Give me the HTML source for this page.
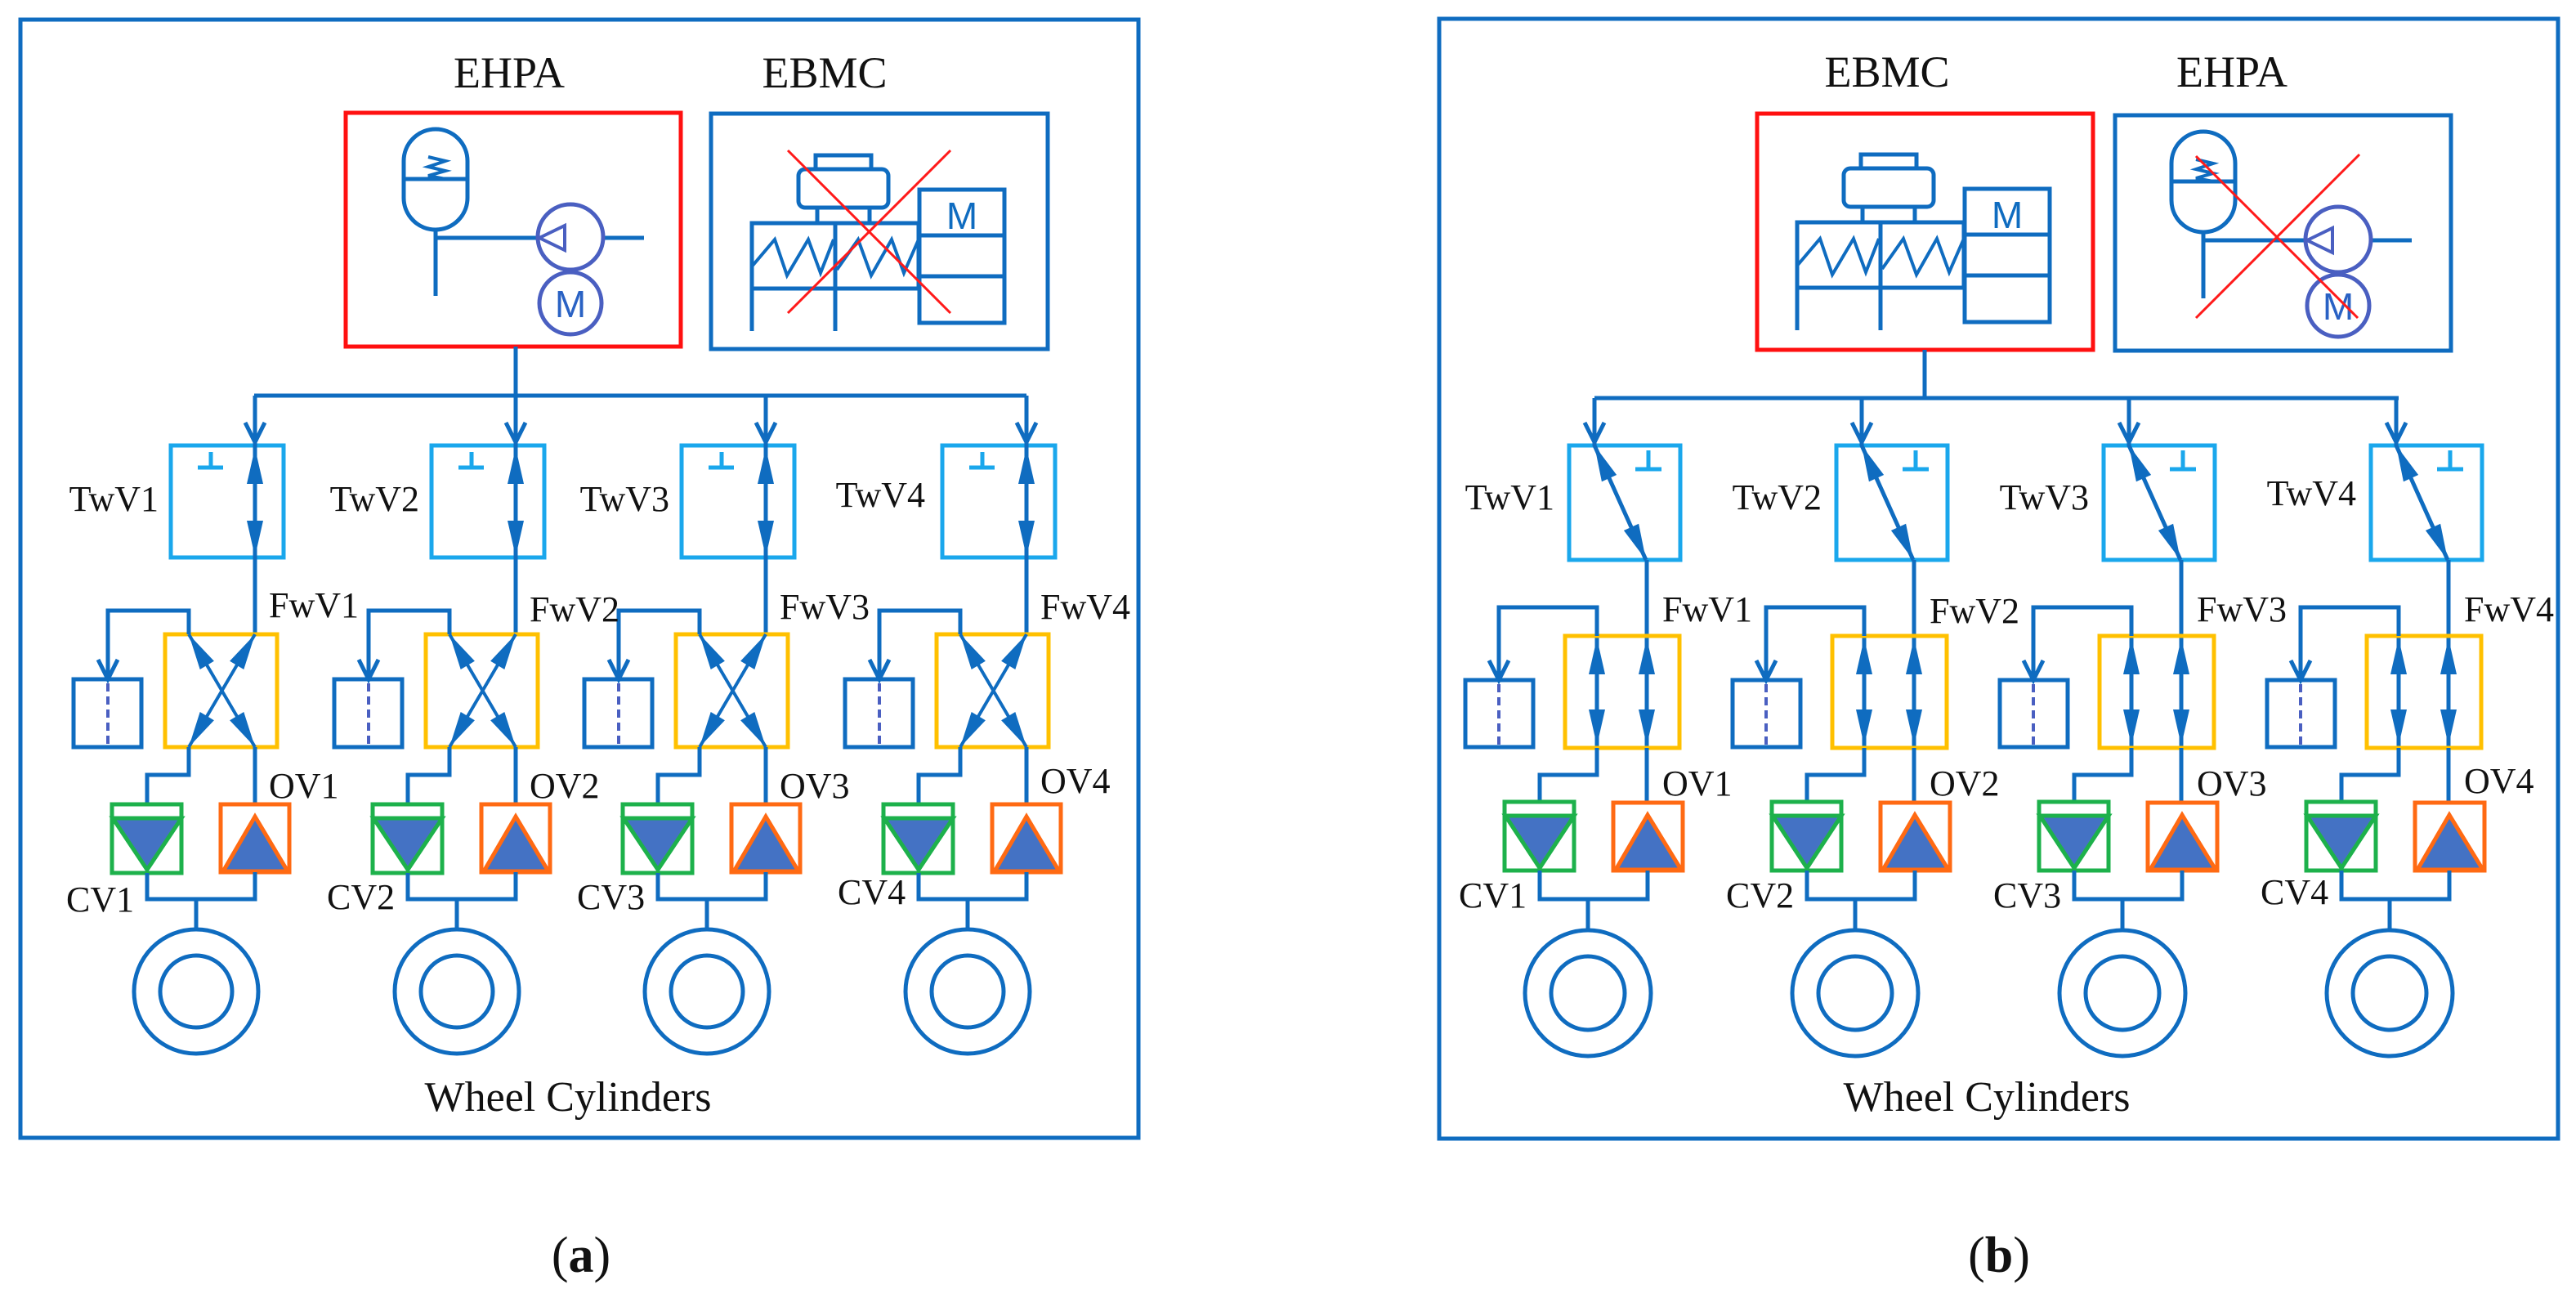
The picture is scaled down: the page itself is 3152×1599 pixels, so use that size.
<!DOCTYPE html>
<html><head><meta charset="utf-8"><style>
html,body{margin:0;padding:0;background:#fff;}
svg{display:block;}
text{font-family:"Liberation Serif",serif;fill:#111;}
</style></head><body>
<svg width="3152" height="1599" viewBox="0 0 3152 1599" xmlns="http://www.w3.org/2000/svg">
<defs>
<g id="colA" fill="none" stroke-width="5">
  <rect x="-103" y="545" width="138" height="137" stroke="#1aa7ec"/>
  <path d="M-54 553V572M-70 572H-39" stroke="#1aa7ec"/>
  <path d="M0 484V776" stroke="#0f6cc0"/>
  <path d="M-12 517L0 541L12 517" stroke="#0f6cc0"/>
  <polygon points="0,548 -10,592 10,592" fill="#0f6cc0" stroke="none"/>
  <polygon points="0,681 -10,637 10,637" fill="#0f6cc0" stroke="none"/>
  <rect x="-110" y="776" width="137" height="138" stroke="#ffc000"/>
  <path d="M-81 776L0 914M0 776L-81 914" stroke="#0f6cc0" stroke-width="4"/>
  <g fill="#0f6cc0" stroke="none">
   <polygon points="-81,776 -50.1,808.8 -67.3,819"/>
   <polygon points="0,914 -13.7,871 -30.9,881.2"/>
   <polygon points="0,776 -13.7,819 -30.9,808.8"/>
   <polygon points="-81,914 -50.1,881.2 -67.3,871"/>
  </g>
  <path d="M-81 776V747H-180V831" stroke="#0f6cc0"/>
  <path d="M-192 807L-180 831L-168 807" stroke="#0f6cc0"/>
  <rect x="-222" y="831" width="83" height="83" stroke="#0f6cc0"/>
  <path d="M-180 836V914" stroke="#4a5fc1" stroke-dasharray="10 6" stroke-width="4"/>
  <path d="M-81 914V948H-132V984M0 914V984" stroke="#0f6cc0"/>
  <rect x="-175" y="984" width="85" height="84" stroke="#1db14b"/>
  <polygon points="-174,1001 -90,1001 -132,1064" fill="#4472c4" stroke="#1db14b"/>
  <path d="M-175 1001H-90" stroke="#1db14b"/>
  <rect x="-42" y="984" width="84" height="83" stroke="#ff6a13"/>
  <polygon points="0,999 -39,1066 40,1066" fill="#4472c4" stroke="#ff6a13"/>
  <path d="M-132 1068V1100H0V1067M-72 1100V1137" stroke="#0f6cc0"/>
  <circle cx="-72" cy="1213" r="76" stroke="#0f6cc0"/>
  <circle cx="-72" cy="1213" r="44" stroke="#0f6cc0"/>
</g>
<g id="colB" fill="none" stroke-width="5">
  <rect x="-95" y="545" width="136" height="140" stroke="#1aa7ec"/>
  <path d="M2 551V574M-14 574H18" stroke="#1aa7ec"/>
  <path d="M-64 487V545L-1 685" stroke="#0f6cc0"/>
  <path d="M-76 517L-64 541L-52 517" stroke="#0f6cc0"/>
  <polygon points="-64,545 -36.9,581 -55.1,589.2" fill="#0f6cc0" stroke="none"/>
  <polygon points="-1,685 -9.9,640.8 -28.1,649" fill="#0f6cc0" stroke="none"/>
  <path d="M0 685V915M-61 778V915" stroke="#0f6cc0"/>
  <rect x="-100" y="778" width="140" height="137" stroke="#ffc000"/>
  <g fill="#0f6cc0" stroke="none">
   <polygon points="-61,781 -71,825 -51,825"/>
   <polygon points="-61,912 -71,868 -51,868"/>
   <polygon points="0,781 -10,825 10,825"/>
   <polygon points="0,912 -10,868 10,868"/>
  </g>
  <path d="M-61 778V743H-181V832" stroke="#0f6cc0"/>
  <path d="M-193 808L-181 832L-169 808" stroke="#0f6cc0"/>
  <rect x="-222" y="832" width="83" height="82" stroke="#0f6cc0"/>
  <path d="M-181 837V914" stroke="#4a5fc1" stroke-dasharray="10 6" stroke-width="4"/>
  <path d="M-61 915V948H-131V981M0 915V982" stroke="#0f6cc0"/>
  <rect x="-174" y="981" width="85" height="84" stroke="#1db14b"/>
  <polygon points="-173,998 -89,998 -131,1062" fill="#4472c4" stroke="#1db14b"/>
  <path d="M-174 998H-89" stroke="#1db14b"/>
  <rect x="-41" y="982" width="85" height="83" stroke="#ff6a13"/>
  <polygon points="1,997 -38,1064 42,1064" fill="#4472c4" stroke="#ff6a13"/>
  <path d="M-131 1065V1100H1V1065M-72 1100V1138" stroke="#0f6cc0"/>
  <circle cx="-72" cy="1215" r="77" stroke="#0f6cc0"/>
  <circle cx="-72" cy="1215" r="45" stroke="#0f6cc0"/>
</g>
<g id="ehpa" fill="none" stroke-width="5">
  <rect x="494" y="158" width="78" height="123" rx="39" stroke="#0f6cc0"/>
  <path d="M494 219H572" stroke="#0f6cc0"/>
  <path d="M524 192L545 197L524 204L545 209L524 215L545 219" stroke="#0f6cc0" stroke-width="4"/>
  <path d="M533 281V362M533 291H658M737 291H788" stroke="#0f6cc0"/>
  <circle cx="698" cy="290" r="40" stroke="#4a5fc1"/>
  <path d="M660 291L691 276V306Z" stroke="#4a5fc1" stroke-width="4"/>
  <circle cx="698" cy="371" r="38" stroke="#4a5fc1"/>
  <text x="698" y="388" text-anchor="middle" font-size="46" style="font-family:'Liberation Sans',sans-serif;fill:#2a62c4">M</text>
</g>
<g id="ebmc" fill="none" stroke-width="5" stroke="#0f6cc0">
  <rect x="998" y="190" width="68" height="17"/>
  <rect x="977" y="207" width="110" height="47" rx="8"/>
  <path d="M1000 254V273M1064 254V273"/>
  <rect x="920" y="273" width="204" height="80"/>
  <path d="M920 353V405M1022 273V405"/>
  <path d="M920 326L948 293L963 337L989 293L1004 334L1020 293" stroke-width="4"/>
  <path d="M1024 330L1050 293L1066 337L1091 293L1106 334L1124 293" stroke-width="4"/>
  <rect x="1125" y="232" width="104" height="163"/>
  <path d="M1125 288H1229M1125 338H1229"/>
  <text x="1177" y="280" text-anchor="middle" font-size="46" stroke="none" style="font-family:'Liberation Sans',sans-serif;fill:#0f6cc0">M</text>
</g>
</defs>

<!-- Panel A -->
<rect x="25" y="24" width="1368" height="1368" fill="none" stroke="#0f6cc0" stroke-width="5"/>
<text x="623" y="107" text-anchor="middle" font-size="54">EHPA</text>
<text x="1009" y="107" text-anchor="middle" font-size="54">EBMC</text>
<rect x="423" y="138" width="410" height="286" fill="none" stroke="#ff1010" stroke-width="5"/>
<use href="#ehpa"/>
<rect x="870" y="139" width="412" height="288" fill="none" stroke="#0f6cc0" stroke-width="5"/>
<use href="#ebmc"/>
<path d="M964 184L1163 383M1163 184L964 383" stroke="#ff1a1a" stroke-width="3"/>
<path d="M631 424V484M311 484H1256" fill="none" stroke="#0f6cc0" stroke-width="5"/>
<use href="#colA" transform="translate(312,0)"/>
<use href="#colA" transform="translate(631,0)"/>
<use href="#colA" transform="translate(937,0)"/>
<use href="#colA" transform="translate(1256,0)"/>
<g font-size="44">
<text x="194" y="625" text-anchor="end">TwV1</text>
<text x="513" y="625" text-anchor="end">TwV2</text>
<text x="819" y="625" text-anchor="end">TwV3</text>
<text x="1132" y="620" text-anchor="end">TwV4</text>
<text x="329" y="755">FwV1</text>
<text x="648" y="760">FwV2</text>
<text x="954" y="757">FwV3</text>
<text x="1273" y="757">FwV4</text>
<text x="329" y="976">OV1</text>
<text x="648" y="976">OV2</text>
<text x="954" y="976">OV3</text>
<text x="1273" y="970">OV4</text>
<text x="81" y="1115">CV1</text>
<text x="400" y="1112">CV2</text>
<text x="706" y="1112">CV3</text>
<text x="1025" y="1106">CV4</text>
</g>
<text x="695" y="1359" text-anchor="middle" font-size="52">Wheel Cylinders</text>

<!-- Panel B -->
<rect x="1761" y="23" width="1369" height="1370" fill="none" stroke="#0f6cc0" stroke-width="5"/>
<text x="2309" y="106" text-anchor="middle" font-size="54">EBMC</text>
<text x="2731" y="106" text-anchor="middle" font-size="54">EHPA</text>
<rect x="2150" y="139" width="411" height="289" fill="none" stroke="#ff1010" stroke-width="5"/>
<use href="#ebmc" transform="translate(1279,-1)"/>
<rect x="2588" y="141" width="411" height="288" fill="none" stroke="#0f6cc0" stroke-width="5"/>
<use href="#ehpa" transform="translate(2163,3)"/>
<path d="M2687 191L2885 389M2887 189L2687 389" stroke="#ff1a1a" stroke-width="3"/>
<path d="M2355 428V487M1951 487H2935" fill="none" stroke="#0f6cc0" stroke-width="5"/>
<use href="#colB" transform="translate(2015,0)"/>
<use href="#colB" transform="translate(2342,0)"/>
<use href="#colB" transform="translate(2669,0)"/>
<use href="#colB" transform="translate(2996,0)"/>
<g font-size="44">
<text x="1902" y="623" text-anchor="end">TwV1</text>
<text x="2229" y="623" text-anchor="end">TwV2</text>
<text x="2556" y="623" text-anchor="end">TwV3</text>
<text x="2883" y="618" text-anchor="end">TwV4</text>
<text x="2034" y="760">FwV1</text>
<text x="2361" y="762">FwV2</text>
<text x="2688" y="760">FwV3</text>
<text x="3015" y="760">FwV4</text>
<text x="2034" y="973">OV1</text>
<text x="2361" y="973">OV2</text>
<text x="2688" y="973">OV3</text>
<text x="3015" y="970">OV4</text>
<text x="1785" y="1110">CV1</text>
<text x="2112" y="1110">CV2</text>
<text x="2439" y="1110">CV3</text>
<text x="2766" y="1106">CV4</text>
</g>
<text x="2431" y="1359" text-anchor="middle" font-size="52">Wheel Cylinders</text>

<text x="711" y="1556" text-anchor="middle" font-size="62">(<tspan font-weight="bold">a</tspan>)</text>
<text x="2446" y="1556" text-anchor="middle" font-size="62">(<tspan font-weight="bold">b</tspan>)</text>
</svg>
</body></html>
